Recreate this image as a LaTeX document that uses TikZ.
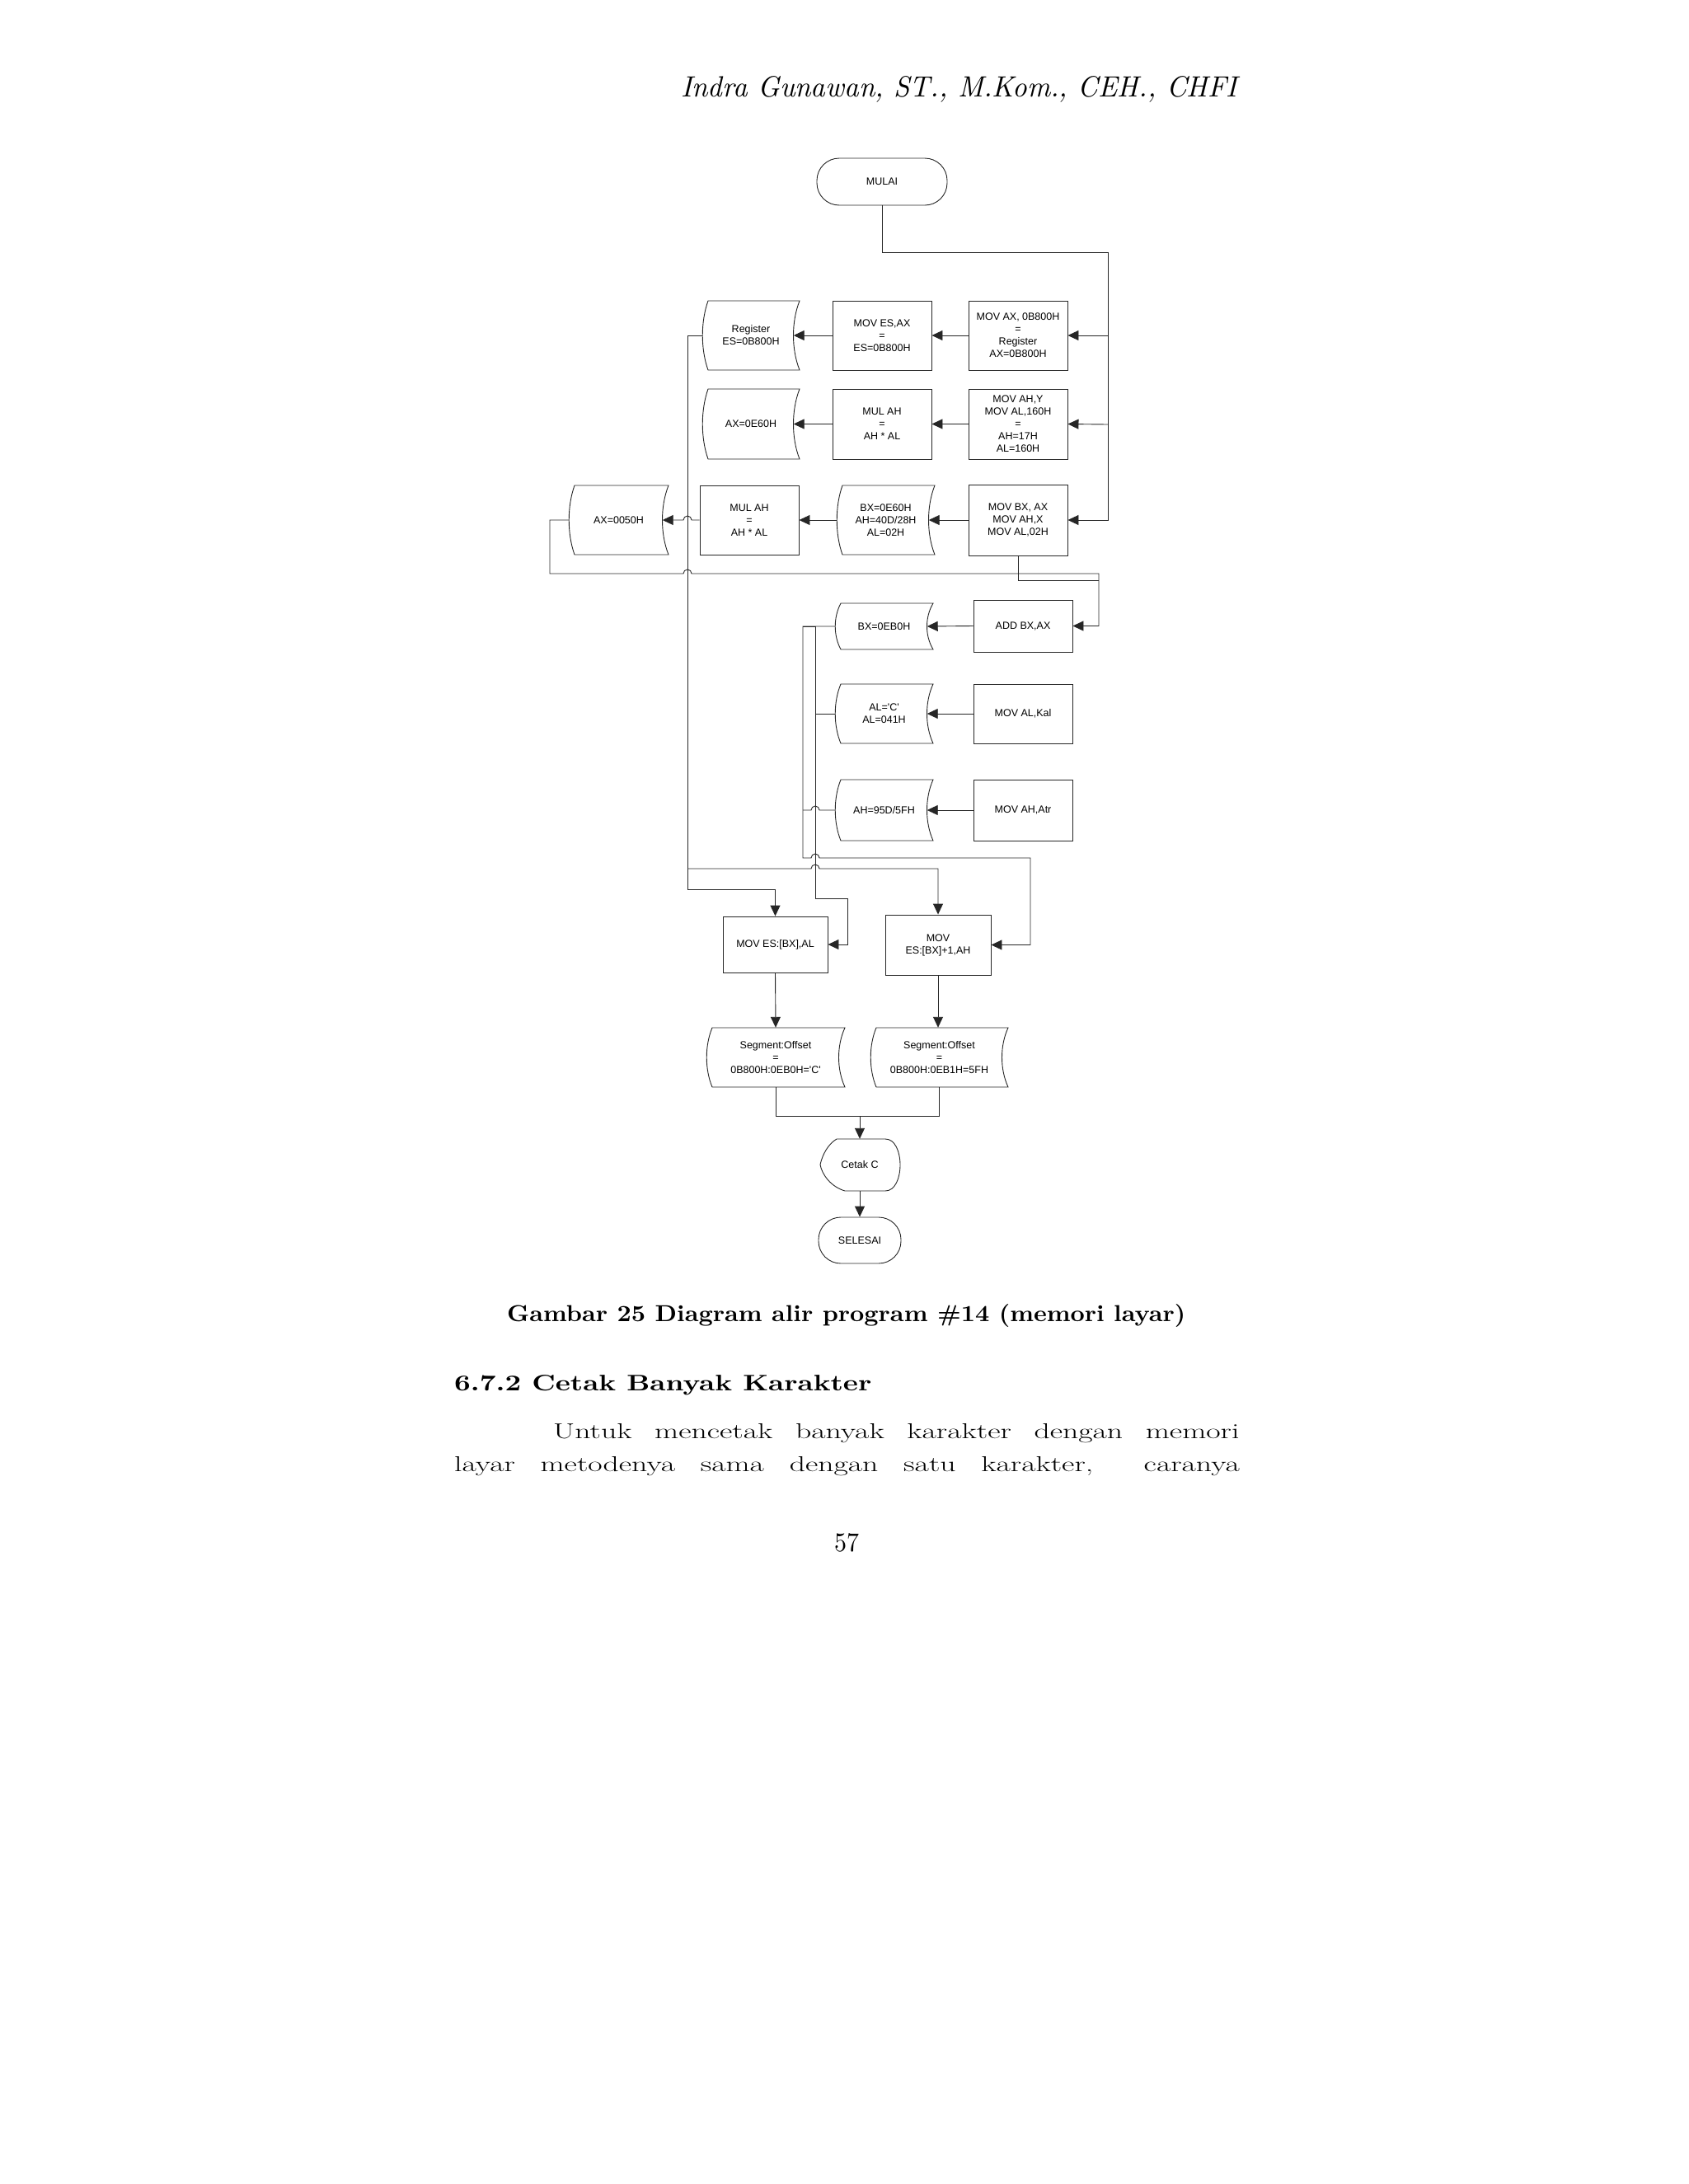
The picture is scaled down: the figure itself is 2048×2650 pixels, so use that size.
\documentclass[tikz,border=0pt]{standalone}
\usepackage{fontspec}
\usetikzlibrary{arrows.meta}
\newfontfamily\diagfont{Liberation Sans}
\tikzset{
 x=1pt,y=-1pt,
 ln/.style={line width=0.9pt,draw=black!85},
 arr/.style={ln,-{Triangle[length=13pt,width=12pt]}},
 txt/.style={font=\diagfont\fontsize{12.5}{15}\selectfont,align=center,inner sep=0pt},
 term/.style={txt,ln,draw,rounded corners=27pt}
}
\newcommand\bx[6]{\node[txt,ln,draw,minimum width={(#4-#2)*1pt},minimum height={(#5-#3)*1pt}] (#1) at ({(#2+#4)/2},{(#3+#5)/2}) {#6};}
\newcommand\docsh[6]{%
 \draw[ln] ({#2+7},#3) -- (#4,#3) .. controls ({#4-10},{#3+0.3*(#5-#3)}) and ({#4-10},{#5-0.3*(#5-#3)}) .. (#4,#5) -- ({#2+7},#5) .. controls ({#2-2},{#5-0.3*(#5-#3)}) and ({#2-2},{#3+0.3*(#5-#3)}) .. cycle;
 \node[txt,minimum width={(#4-#2)*1pt},minimum height={(#5-#3)*1pt}] (#1) at ({(#2+#4)/2},{(#3+#5)/2}) {#6};}
\begin{document}
\begin{tikzpicture}
\useasboundingbox[fill=white] (0,0) rectangle (2048,2650);
% page text
\node[anchor=base west,inner sep=0] (hdr) at (826,117) {\resizebox{675pt}{25pt}{\itshape Indra Gunawan, ST., M.Kom., CEH., CHFI}};
\node[anchor=base west,inner sep=0] (cap) at (615,1603) {\resizebox{823pt}{21pt}{\bfseries Gambar 25 Diagram alir program \#14 (memori layar)}};
\node[anchor=base west,inner sep=0] (head) at (551,1687) {\resizebox{506pt}{19pt}{\bfseries 6.7.2 Cetak Banyak Karakter}};
\node[anchor=base west,inner sep=0] (p1) at (671,1745) {\scalebox{1.45}[1]{\fontsize{26}{30}\selectfont\hbox to 574pt{Untuk\hfill mencetak\hfill banyak\hfill karakter\hfill dengan\hfill memori}}};
\node[anchor=base west,inner sep=0] (p2) at (551,1785) {\scalebox{1.45}[1]{\fontsize{26}{30}\selectfont\hbox to 657pt{layar\hfill metodenya\hfill sama\hfill dengan\hfill satu\hfill karakter,\hfill\hfill caranya}}};
\node[anchor=base west,inner sep=0] (pg) at (1012,1882) {\resizebox{30pt}{22pt}{57}};
% diagram nodes
\node[term,minimum width=158pt,minimum height=57pt] (mulai) at (1070,220.5) {MULAI};
\bx{movax}{1175}{365}{1295}{449}{MOV AX, 0B800H\\=\\Register\\AX=0B800H}
\bx{moves}{1010}{365}{1130}{449}{MOV ES,AX\\=\\ES=0B800H}
\docsh{reges}{852}{365}{970}{449}{Register\\ES=0B800H}
\bx{movah}{1175}{472}{1295}{557}{MOV AH,Y\\MOV AL,160H\\=\\AH=17H\\AL=160H}
\bx{mulah}{1010}{472}{1130}{557}{MUL AH\\=\\AH * AL}
\docsh{axe}{852}{472}{970}{557}{AX=0E60H}
\bx{movbx}{1175}{588}{1295}{674}{MOV BX, AX\\MOV AH,X\\MOV AL,02H}
\docsh{bxa}{1015}{589}{1134}{673}{BX=0E60H\\AH=40D/28H\\AL=02H}
\bx{mulb}{849}{589}{969}{673}{MUL AH\\=\\AH * AL}
\docsh{axf}{690}{589}{811}{673}{AX=0050H}
\bx{addbx}{1181}{728}{1301}{791}{ADD BX,AX}
\docsh{bxb}{1013}{732}{1132}{788}{BX=0EB0H}
\bx{moval}{1181}{830}{1301}{902}{MOV AL,Kal}
\docsh{aldoc}{1013}{830}{1132}{902}{AL='C'\\AL=041H}
\bx{movat}{1181}{946}{1301}{1020}{MOV AH,Atr}
\docsh{ahdoc}{1013}{946}{1132}{1020}{AH=95D/5FH}
\bx{mesal}{877}{1112}{1004}{1180}{MOV ES:[BX],AL}
\bx{mesah}{1074}{1110}{1202}{1183}{MOV\\ES:[BX]+1,AH}
\docsh{segl}{857}{1247}{1025}{1319}{Segment:Offset\\=\\0B800H:0EB0H='C'}
\docsh{segr}{1056}{1247}{1223}{1319}{Segment:Offset\\=\\0B800H:0EB1H=5FH}
\draw[ln] (1015,1382) -- (1074,1382) .. controls (1098,1382) and (1098,1445) .. (1074,1445) -- (1025,1445) .. controls (1008,1440) and (997,1425) .. (995,1413) .. controls (998,1400) and (1005,1388) .. cycle;
\node[txt,minimum width=96pt,minimum height=63pt] (cetak) at (1043,1413.5) {Cetak C};
\node[term,minimum width=100pt,minimum height=56pt] (selesai) at (1043,1505) {SELESAI};
% connectors
\coordinate (rt) at (1344,306);
\draw[arr] (mulai.south) |- (rt) |- (movbx.east);
\draw[arr] (1344,407) -- (movax.east);
\draw[arr] (1344,515) -- (movah.east);
\draw[arr] (movax.west) -- (moves.east);
\draw[arr] (moves.west) -- ([xshift=-7.5pt]reges.east);
\draw[arr] (movah.west) -- (mulah.east);
\draw[arr] (mulah.west) -- ([xshift=-7.5pt]axe.east);
\draw[arr] (movbx.west) -- ([xshift=-7.5pt]bxa.east);
\draw[arr] (bxa.west) -- (mulb.east);
\draw[arr] (mulb.west) -- (839,631) arc[start angle=0,end angle=-180,radius=5] -- ([xshift=-7.5pt]axf.east);
\draw[arr] (axf.west) -- (667,631) -- (667,696) -- (829,696) arc[start angle=180,end angle=360,radius=5] -- (1333,696) |- (addbx.east);
\draw[ln] (movbx.south) |- (1333,704);
\draw[arr] (addbx.west) -- ([xshift=-7.5pt]bxb.east);
\draw[arr] (moval.west) -- ([xshift=-7.5pt]aldoc.east);
\draw[arr] (movat.west) -- ([xshift=-7.5pt]ahdoc.east);
% left bus from Register ES
\draw[arr] (reges.west) -- (834,407) -- (834,1079) -| (mesal.north);
\draw[arr] (834,1054) -- (984,1054) arc[start angle=180,end angle=360,radius=5] -- (1138,1054) -- (mesah.north);
% BX bus
\draw[arr] (bxb.west) -- (974,760) -- (974,1041) -- (984,1041) arc[start angle=180,end angle=360,radius=5] -- (1250,1041) |- (mesah.east);
\draw[arr] (974,760) -- (989,760) -- (989,1090) -- (1028,1090) |- (mesal.east);
\draw[ln] (aldoc.west) -- (989,866);
\draw[ln] (ahdoc.west) -- (994,983) arc[start angle=0,end angle=-180,radius=5] -- (974,983);
% bottom
\draw[arr] (mesal.south) -- (segl.north);
\draw[arr] (mesah.south) -- (segr.north -| mesah.south);
\draw[ln] (segl.south) |- (1043,1354) -| (segr.south);
\draw[arr] (1043,1354) -- (cetak.north);
\draw[arr] (cetak.south) -- (selesai.north);
\end{tikzpicture}
\end{document}
